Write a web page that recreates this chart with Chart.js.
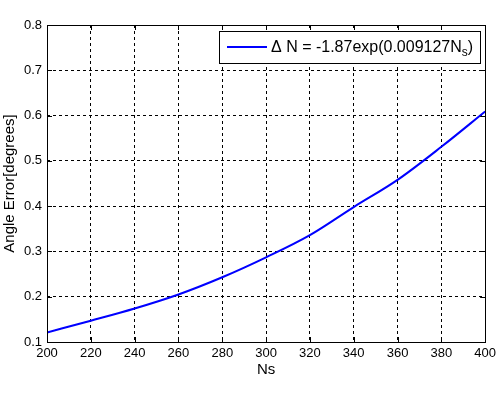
<!DOCTYPE html>
<html>
<head>
<meta charset="utf-8">
<script src="https://cdn.jsdelivr.net/npm/chart.js@4/dist/chart.umd.min.js"></script>
<style>
    html, body { margin: 0; padding: 0; background: #fff; }
    #wrap { width: 500px; height: 395px; }
</style>
</head>
<body>
<div id="wrap"><canvas id="errorChart" width="500" height="395"></canvas></div>
<script>
// values
const nsValues = [200, 220, 240, 260, 280, 300, 320, 340, 360, 380, 400];
const angleError = [0.121, 0.147, 0.174, 0.205, 0.243, 0.287, 0.336, 0.398, 0.458, 0.531, 0.609];
const xTicks = [200, 220, 240, 260, 280, 300, 320, 340, 360, 380, 400];
const yTicks = [0.1, 0.2, 0.3, 0.4, 0.5, 0.6, 0.7, 0.8];
const legendLabel = ['\u0394 N = -1.87exp(0.009127N', 's', ')'];

const fontFamily = "'Liberation Sans', Arial, sans-serif";

// matlab style box, inner tick marks and legend
const matlabFrame = {
    id: 'matlabFrame',
    afterDraw(chart) {
        const { ctx, chartArea: a, scales: { x, y } } = chart;
        const px = v => Math.round(v) + 0.5;
        ctx.save();
        ctx.strokeStyle = '#000';
        ctx.lineWidth = 1;
        ctx.setLineDash([]);
        ctx.strokeRect(px(a.left), px(a.top), Math.round(a.right) - Math.round(a.left), Math.round(a.bottom) - Math.round(a.top));

        const tl = 5;
        ctx.beginPath();
        xTicks.forEach(v => {
            const p = px(x.getPixelForValue(v));
            ctx.moveTo(p, a.bottom); ctx.lineTo(p, a.bottom - tl);
            ctx.moveTo(p, a.top); ctx.lineTo(p, a.top + tl);
        });
        yTicks.forEach(v => {
            const p = px(y.getPixelForValue(v));
            ctx.moveTo(a.left, p); ctx.lineTo(a.left + tl, p);
            ctx.moveTo(a.right, p); ctx.lineTo(a.right - tl, p);
        });
        ctx.stroke();

        // legend
        const mainFont = '16px ' + fontFamily;
        const subFont = '12px ' + fontFamily;
        ctx.font = mainFont;
        const w1 = ctx.measureText(legendLabel[0]).width;
        const w3 = ctx.measureText(legendLabel[2]).width;
        ctx.font = subFont;
        const w2 = ctx.measureText(legendLabel[1]).width;
        const boxH = 32;
        const boxW = 8 + 40 + 4 + w1 + w2 + w3 + 7;
        const right = Math.round(a.right) - 5;
        const left = Math.round(right - boxW);
        const top = Math.round(a.top) + 6;
        ctx.fillStyle = '#fff';
        ctx.fillRect(left, top, right - left, boxH);
        ctx.strokeRect(left + 0.5, top + 0.5, right - left, boxH);

        ctx.strokeStyle = '#0000ff';
        ctx.lineWidth = 2;
        ctx.beginPath();
        ctx.moveTo(left + 8, top + 16);
        ctx.lineTo(left + 48, top + 16);
        ctx.stroke();

        ctx.fillStyle = '#000';
        ctx.textBaseline = 'alphabetic';
        ctx.textAlign = 'left';
        let tx = left + 52;
        const base = top + 21;
        ctx.font = mainFont;
        ctx.fillText(legendLabel[0], tx, base);
        tx += w1;
        ctx.font = subFont;
        ctx.fillText(legendLabel[1], tx, base + 4);
        tx += w2;
        ctx.font = mainFont;
        ctx.fillText(legendLabel[2], tx, base);
        ctx.restore();
    }
};

const ctx = document.getElementById('errorChart').getContext('2d');
new Chart(ctx, {
    type: 'line',
    data: {
        datasets: [{
            label: legendLabel.join(''),
            data: nsValues.map((n, i) => ({ x: n, y: angleError[i] })),
            borderColor: '#0000ff',
            borderWidth: 2,
            pointRadius: 0,
            fill: false,
            cubicInterpolationMode: 'monotone'
        }]
    },
    options: {
        responsive: false,
        animation: false,
        devicePixelRatio: 1,
        layout: { padding: { top: 25, right: 12, left: 0, bottom: 0 } },
        plugins: {
            legend: { display: false },
            tooltip: { enabled: false }
        },
        scales: {
            x: {
                type: 'linear',
                min: 200, max: 400,
                afterBuildTicks: s => { s.ticks = xTicks.map(v => ({ value: v })); },
                afterFit: s => { s.height = 53; },
                grid: { color: '#000', lineWidth: 1, drawTicks: false },
                border: { display: false, dash: [3, 3] },
                ticks: {
                    padding: 4,
                    color: '#000',
                    font: { family: fontFamily, size: 13 },
                    maxRotation: 0,
                    callback: v => String(v)
                },
                title: {
                    display: true, text: 'Ns', color: '#000',
                    font: { family: fontFamily, size: 15 },
                    padding: { top: 0, bottom: 16 }
                }
            },
            y: {
                min: 0.1, max: 0.8,
                afterBuildTicks: s => { s.ticks = yTicks.map(v => ({ value: v })); },
                afterFit: s => { s.width = 47; },
                grid: { color: '#000', lineWidth: 1, drawTicks: false },
                border: { display: false, dash: [3, 3] },
                ticks: {
                    padding: 5,
                    color: '#000',
                    font: { family: fontFamily, size: 13 },
                    callback: v => v.toFixed(1)
                },
                title: {
                    display: true, text: 'Angle Error[degrees]', color: '#000',
                    font: { family: fontFamily, size: 15 },
                    padding: { top: 1, bottom: 0 }
                }
            }
        }
    },
    plugins: [matlabFrame]
});
</script>
</body>
</html>
